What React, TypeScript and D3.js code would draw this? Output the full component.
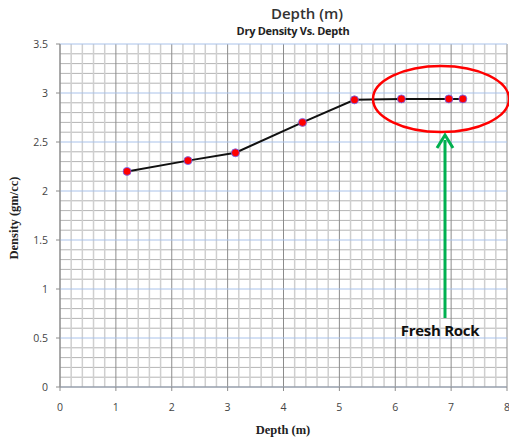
import * as d3 from "d3";

// Data
const depths = [1.2, 2.29, 3.14, 4.34, 5.27, 6.11, 6.96, 7.21];
const densities = [2.2, 2.31, 2.39, 2.7, 2.93, 2.94, 2.94, 2.94];
const xTicks = [0, 1, 2, 3, 4, 5, 6, 7, 8];
const yTicks = [0, 0.5, 1, 1.5, 2, 2.5, 3, 3.5];

const W = 509;
const H = 439;

export default function App() {
  const x = d3.scaleLinear().domain([0, 8]).range([60, 507]);
  const y = d3.scaleLinear().domain([0, 3.5]).range([387, 44]);

  const data = depths.map((d, i) => ({ d, v: densities[i] }));
  const line = d3.line<{ d: number; v: number }>()
    .x(p => x(p.d))
    .y(p => y(p.v));

  // minor grid
  const xMinor = d3.range(0, 8.001, 0.2).filter(v => Math.abs(v - Math.round(v)) > 0.01);
  const yMinor = d3.range(0, 3.501, 0.1).filter(v => Math.abs(v * 2 - Math.round(v * 2)) > 0.01);

  return (
    <svg width={W} height={H} style={{ position: "absolute", left: 0, top: 0, background: "#fff" }}>
      {/* grid */}
      {yMinor.map((v, i) => (
        <line key={"ym" + i} x1={x(0)} x2={x(8)} y1={y(v)} y2={y(v)} stroke="#b4b4b4" strokeWidth={1} />
      ))}
      {xMinor.map((v, i) => (
        <line key={"xm" + i} x1={x(v)} x2={x(v)} y1={y(0)} y2={y(3.5)} stroke="#cfcfcf" strokeWidth={1.5} />
      ))}
      {xTicks.map(v => (
        <line key={"xM" + v} x1={x(v)} x2={x(v)} y1={y(0)} y2={y(3.5)} stroke="#8c8c8c" strokeWidth={1} />
      ))}
      {yTicks.map(v => (
        <line key={"yM" + v} x1={x(0)} x2={x(8)} y1={y(v)} y2={y(v)} stroke="#a9c2ea" strokeWidth={1} />
      ))}

      {/* axes */}
      <line x1={x(0)} x2={x(0)} y1={y(0)} y2={y(3.5)} stroke="#8c8c8c" />
      <line x1={x(0)} x2={x(8)} y1={y(0)} y2={y(0)} stroke="#8c8c8c" />
      {yTicks.map(v => (
        <g key={"yt" + v}>
          <line x1={x(0) - 4} x2={x(0)} y1={y(v)} y2={y(v)} stroke="#8c8c8c" />
          <text x={48} y={y(v) + 4} textAnchor="end" fontFamily="Open Sans, sans-serif" fontSize={10.5} fill="#444">{v}</text>
        </g>
      ))}
      {xTicks.map(v => (
        <g key={"xt" + v}>
          <line x1={x(v)} x2={x(v)} y1={y(0)} y2={y(0) + 4} stroke="#8c8c8c" />
          <text x={x(v)} y={411} textAnchor="middle" fontFamily="Open Sans, sans-serif" fontSize={10.5} fill="#444">{v}</text>
        </g>
      ))}

      {/* titles */}
      <text x={307} y={19} textAnchor="middle" fontFamily="Open Sans, sans-serif" fontSize={15} fontWeight={600} fill="#333">Depth (m)</text>
      <text x={293} y={35} textAnchor="middle" fontFamily="Open Sans, sans-serif" fontSize={11} fontWeight={700} fill="#222" letterSpacing={-0.3}>Dry Density Vs. Depth</text>
      <text x={283} y={434} textAnchor="middle" fontFamily="Liberation Serif, serif" fontSize={12.5} fontWeight={700} fill="#222">Depth (m)</text>
      <text transform={`translate(18,${218}) rotate(-90)`} textAnchor="middle" fontFamily="Liberation Serif, serif" fontSize={12.5} fontWeight={700} fill="#222">Density (gm/cc)</text>

      {/* series */}
      <path d={line(data) || ""} fill="none" stroke="#111" strokeWidth={2} />
      {data.map((p, i) => (
        <circle key={i} cx={x(p.d)} cy={y(p.v)} r={4} fill="#f00" stroke="#6a6aff" strokeWidth={0.8} />
      ))}

      {/* annotation */}
      <ellipse cx={441} cy={99} rx={68} ry={33} fill="none" stroke="#f00" strokeWidth={2.5} />
      <line x1={445} x2={445} y1={318} y2={140} stroke="#00b050" strokeWidth={3} />
      <path d="M437,148 L445,135 L453,148" fill="none" stroke="#00b050" strokeWidth={3} />
      <text x={440} y={336} textAnchor="middle" fontFamily="Open Sans, sans-serif" fontSize={15} fontWeight={700} fill="#111" letterSpacing={-0.3}>Fresh Rock</text>
    </svg>
  );
}
